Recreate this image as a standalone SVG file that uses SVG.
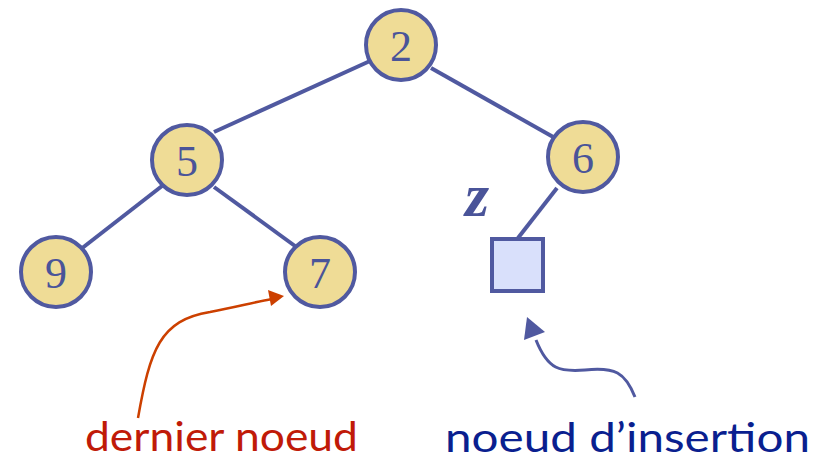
<svg xmlns="http://www.w3.org/2000/svg" width="830" height="461" viewBox="0 0 830 461">
  <defs>
    <style>
      .edge { stroke: #5059a0; stroke-width: 4; fill: none; }
      .node circle { fill: #efdc96; stroke: #5059a0; stroke-width: 4; }
      .node text { font-family: "Liberation Serif", "Times New Roman", serif; font-size: 44px; fill: #4a5499; text-anchor: middle; }
      .label { font-family: "Lato", "Open Sans", sans-serif; font-size: 41px; }
    </style>
  </defs>

  <!-- tree edges -->
  <g id="connectors">
    <line class="edge" x1="370" y1="61" x2="214" y2="132"/>
    <line class="edge" x1="431" y1="68" x2="555" y2="138"/>
    <line class="edge" x1="162" y1="186" x2="81" y2="249"/>
    <line class="edge" x1="214" y1="187" x2="295" y2="246"/>
    <line class="edge" x1="557" y1="188" x2="518" y2="238"/>
  </g>

  <g id="n2" class="node"><circle cx="401" cy="45" r="35"/><text x="401" y="61">2</text></g>
  <g id="n5" class="node"><circle cx="187" cy="160" r="35"/><text x="187" y="176">5</text></g>
  <g id="n6" class="node"><circle cx="583" cy="157" r="35"/><text x="583" y="173">6</text></g>
  <g id="n9" class="node"><circle cx="56" cy="272" r="35"/><text x="56" y="288">9</text></g>
  <g id="n7" class="node"><circle cx="320" cy="272" r="35"/><text x="320" y="288">7</text></g>

  <g id="z">
    <rect x="492" y="239" width="51" height="52" fill="#d9e0fb" stroke="#5059a0" stroke-width="4"/>
    <text x="477" y="216" font-family="Liberation Serif, serif" font-style="italic" font-weight="bold" font-size="62" fill="#4a5499" text-anchor="middle">z</text>
  </g>

  <!-- annotations -->
  <g id="last-node-note">
    <path d="M138,418 C150,350 160,320 210,312 C240,306 255,302 272,299" fill="none" stroke="#cc4000" stroke-width="2.5"/>
    <path d="M284,296 L268,290 L271,306 Z" fill="#cc4000"/>
    <text class="label" x="85" y="451" textLength="273" lengthAdjust="spacingAndGlyphs" fill="#c01a08">dernier noeud</text>
  </g>
  <g id="insert-note">
    <path d="M635,397 C625,372 615,367 585,370 C560,372 548,370 536,340" fill="none" stroke="#5059a0" stroke-width="3"/>
    <path d="M527,317 L524,340 L545,332 Z" fill="#5059a0"/>
    <text class="label" x="445" y="452" textLength="365" lengthAdjust="spacingAndGlyphs" fill="#0a1f8f">noeud d’insertion</text>
  </g>
</svg>
